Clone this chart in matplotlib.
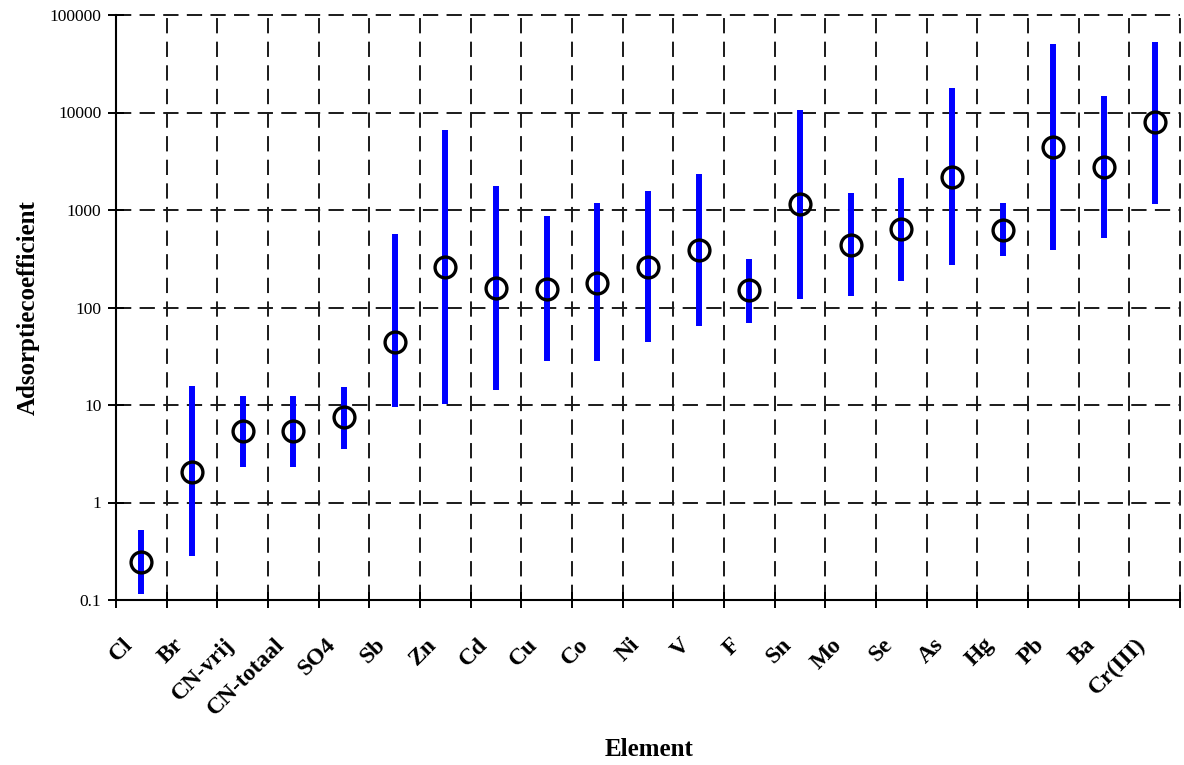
import matplotlib
matplotlib.use('Agg')
import matplotlib.pyplot as plt
import matplotlib.transforms as mtransforms
from matplotlib.ticker import FixedLocator, FixedFormatter, NullLocator
import numpy as np

# ---- data ----
elements = ['Cl', 'Br', 'CN-vrij', 'CN-totaal', 'SO4', 'Sb', 'Zn', 'Cd', 'Cu', 'Co',
            'Ni', 'V', 'F', 'Sn', 'Mo', 'Se', 'As', 'Hg', 'Pb', 'Ba', 'Cr(III)']
median = [0.245, 2.05, 5.35, 5.35, 7.6, 44, 260, 160, 155, 180,
          260, 390, 150, 1160, 440, 640, 2200, 630, 4400, 2750, 8000]
low = [0.115, 0.28, 2.3, 2.3, 3.5, 9.6, 10.3, 14.3, 28.5, 28.5,
       44, 64, 70, 123, 131, 187, 271, 340, 385, 515, 1150]
high = [0.52, 15.6, 12.5, 12.5, 15.2, 570, 6650, 1780, 875, 1170,
        1570, 2330, 312, 10700, 1510, 2120, 18000, 1170, 50000, 14700, 53000]
y_ticks = [0.1, 1, 10, 100, 1000, 10000, 100000]
y_tick_labels = ['0.1', '1', '10', '100', '1000', '10000', '100000']

plt.rcParams['font.family'] = ['Liberation Serif', 'DejaVu Serif']
plt.rcParams['lines.scale_dashes'] = False

W, H = 1184, 765
fig = plt.figure(figsize=(W / 100, H / 100), dpi=100)
L, R, T, B = 116, 1180, 15, 600
ax = fig.add_axes([L / W, 1 - B / H, (R - L) / W, (B - T) / H])

n = len(elements)
x = np.arange(n) + 0.5
ax.vlines(x, low, high, colors='#0000FF', linewidth=4.3, zorder=3)
ax.plot(x, median, linestyle='none', marker='o', ms=15, mfc='none',
        mec='black', mew=2.4, zorder=4)

ax.set_yscale('log')
ax.set_ylim(0.1, 100000)
ax.set_xlim(0, n)
ax.yaxis.set_major_locator(FixedLocator(y_ticks))
ax.yaxis.set_major_formatter(FixedFormatter(y_tick_labels))
ax.yaxis.set_minor_locator(NullLocator())

ax.set_xticks(np.arange(n + 1))
ax.set_xticklabels([])
ax.set_xticks(x, minor=True)
ax.set_xticklabels(elements, minor=True, rotation=45, ha='right', va='center',
                   rotation_mode='anchor', fontsize=17, fontweight='bold')

ax.tick_params(axis='x', which='major', direction='inout', length=12, width=1.4, color='black')
ax.tick_params(axis='x', which='minor', length=0, pad=30)
ax.tick_params(axis='y', which='major', direction='inout', length=11, width=1.4,
               labelsize=12.5, pad=5, color='black')

for sp in ['top', 'right']:
    ax.spines[sp].set_visible(False)
for sp in ['left', 'bottom']:
    ax.spines[sp].set_linewidth(1.5)
    ax.spines[sp].set_color('black')

ax.grid(True, which='major', axis='both', color='#1a1a1a',
        linestyle=(0, (11, 6)), linewidth=1.4, zorder=1)
ax.set_axisbelow(True)
for gl in ax.get_xgridlines() + ax.get_ygridlines():
    gl.set_clip_on(False)

offset = mtransforms.ScaledTranslation(-12 / 100, 0, fig.dpi_scale_trans)
for lab in ax.get_xticklabels(minor=True):
    lab.set_transform(lab.get_transform() + offset)

ax.set_ylabel('Adsorptiecoefficient', fontsize=18, fontweight='bold')
ax.yaxis.set_label_coords((28 - L) / (R - L), 0.5)
ax.yaxis.label.set_va('center')
ax.set_xlabel('Element', fontsize=18, fontweight='bold')
ax.xaxis.set_label_coords((649 - L) / (R - L), (B - 749) / (B - T))
ax.xaxis.label.set_va('center')

fig.savefig('out.png', dpi=100)
